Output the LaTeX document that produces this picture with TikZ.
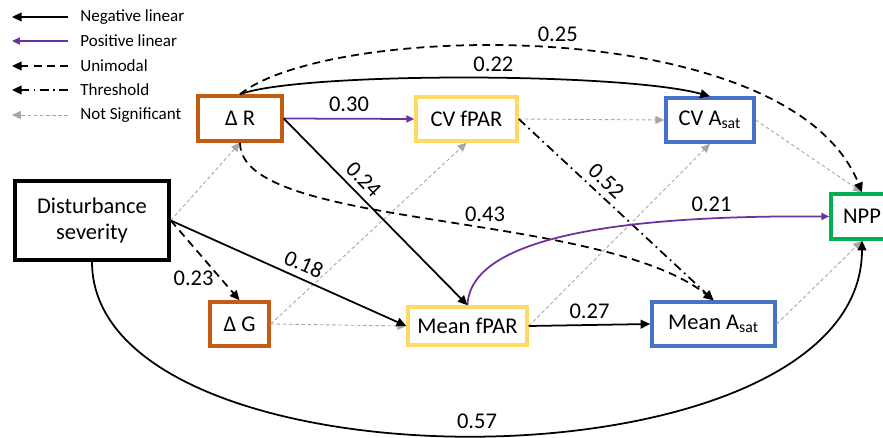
\documentclass[tikz,border=0pt]{standalone}
\usepackage{fontspec}
\setmainfont{Carlito}
\usetikzlibrary{arrows.meta}

\definecolor{dorange}{HTML}{C55A11}
\definecolor{dyellow}{HTML}{FFD966}
\definecolor{dblue}{HTML}{4472C4}
\definecolor{dgreen}{HTML}{00B050}
\definecolor{dpurple}{HTML}{7030A0}
\definecolor{dgray}{HTML}{A6A6A6}

\begin{document}
\begin{tikzpicture}[x=0.02cm, y=0.02cm,
    >={Triangle[length=5.5pt,width=5pt]},
    every node/.style={font=\fontsize{12.8}{15}\selectfont},
    box/.style={draw, line width=2pt, fill=white, inner sep=2pt, align=center},
    legtext/.style={anchor=west, inner sep=0pt, font=\fontsize{9.7}{11}\selectfont},
    neg/.style={->, line width=1pt},
    posline/.style={-{Triangle[length=4.5pt,width=4pt]}, draw=dpurple, line width=1pt},
    uni/.style={->, line width=1pt, dash pattern=on 4.5pt off 3pt},
    thr/.style={->, line width=1pt, dash pattern=on 5pt off 2.5pt on 1pt off 2.5pt},
    nsig/.style={-{Triangle[length=5pt,width=4.5pt]}, draw=dgray, line width=0.5pt, dash pattern=on 2pt off 1.5pt}
]
    \useasboundingbox (0,0) rectangle (883,437);

    % legend
    \coordinate (l1s) at (68,420); \coordinate (l1e) at (12,420);
    \coordinate (l2s) at (68,396); \coordinate (l2e) at (12,396);
    \coordinate (l3s) at (68,371); \coordinate (l3e) at (12,371);
    \coordinate (l4s) at (68,347); \coordinate (l4e) at (12,347);
    \coordinate (l5s) at (68,322); \coordinate (l5e) at (12,322);
    \node[legtext] (l1) at (80,420) {Negative linear};
    \node[legtext] (l2) at (80,396) {Positive linear};
    \node[legtext] (l3) at (80,371) {Unimodal};
    \node[legtext] (l4) at (80,347) {Threshold};
    \node[legtext] (l5) at (80,322) {Not Significant};
    \draw[neg] (l1s) -- (l1e);
    \draw[posline] (l2s) -- (l2e);
    \draw[uni] (l3s) -- (l3e);
    \draw[thr] (l4s) -- (l4e);
    \draw[nsig] (l5s) -- (l5e);

    % boxes
    \node[box, minimum width=3.08cm, minimum height=1.58cm] (dist) at (92,216.5) {Disturbance\\severity};
    \node[box, draw=dorange, minimum width=1.68cm, minimum height=0.9cm] (dR) at (240,318.5) {Δ R};
    \node[box, draw=dorange, minimum width=1.18cm, minimum height=0.88cm] (dG) at (239.5,113) {Δ G};
    \node[box, draw=dyellow, minimum width=2.02cm, minimum height=0.88cm] (cvF) at (466.5,318) {CV fPAR};
    \node[box, draw=dyellow, minimum width=2.38cm, minimum height=0.76cm] (mF) at (467.5,111) {Mean fPAR};
    \node[box, draw=dblue, minimum width=1.76cm, minimum height=0.88cm] (cvA) at (710,317) {CV A\textsubscript{sat}};
    \node[box, draw=dblue, minimum width=2.46cm, minimum height=0.88cm] (mA) at (713.5,113) {Mean A\textsubscript{sat}};
    \node[box, draw=dgreen, minimum width=1.24cm, minimum height=0.9cm] (npp) at (862,220.5) {NPP};

    % not significant paths
    \draw[nsig] (dist.east) -- (dR.south);
    \draw[nsig] (dG.east) -- (cvF.south);
    \draw[nsig] (dG.east) -- (mF.west);
    \draw[nsig] (mF.east) -- (cvA.south);
    \draw[nsig] (cvF.east) -- (cvA.west);
    \draw[nsig] (cvA.east) -- (npp.north);
    \draw[nsig] (mA.east) -- (npp.south);

    % significant paths
    \draw[posline] (dR.east) -- (cvF.west) node[midway, above] {0.30};
    \draw[neg] (dR.east) -- (mF.north) node[pos=0.38, above, sloped] {0.24};
    \draw[uni] (dR.south) .. controls (240,207) and (600,227) .. (mA.north) node[pos=0.58, above] {0.43};
    \draw[neg] (dR.north) .. controls (300,365) and (620,365) .. (cvA.north) node[pos=0.55, above] {0.22};
    \draw[uni] (dR.north) .. controls (330,415) and (790,425) .. (npp.north) node[pos=0.5, above] {0.25};
    \draw[thr] (cvF.east) -- (mA.north) node[pos=0.4, above, sloped] {0.52};
    \draw[uni] (dist.east) -- (dG.north) node[pos=0.72, left] {0.23};
    \draw[neg] (dist.east) -- (mF.west) node[pos=0.54, above, sloped] {0.18};
    \draw[neg] (mF.east) -- (mA.west) node[midway, above] {0.27};
    \draw[posline] (mF.north) .. controls (470,200) and (620,222) .. (npp.west) node[pos=0.8, above] {0.21};
    \draw[neg] (dist.south) .. controls (92,-60) and (862,-60) .. (npp.south) node[pos=0.5, above] {0.57};
\end{tikzpicture}
\end{document}
